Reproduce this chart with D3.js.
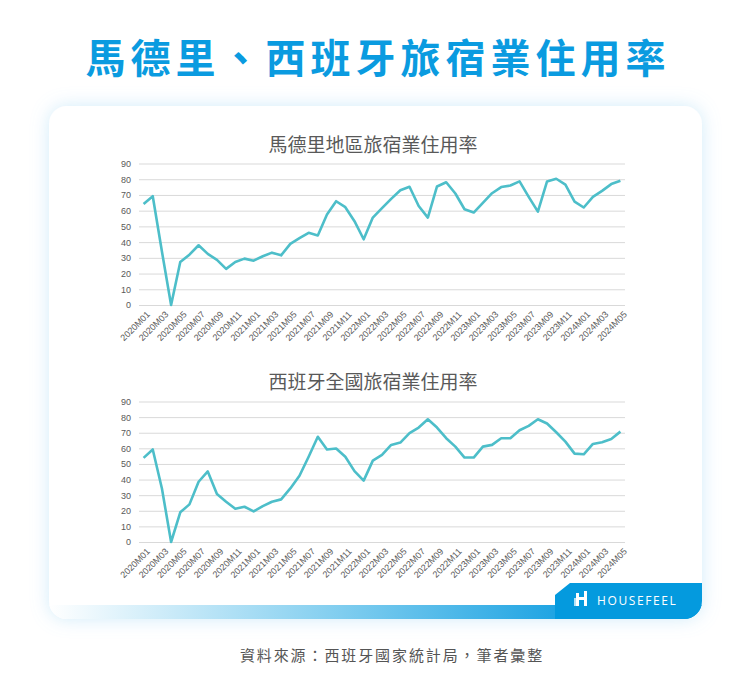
<!DOCTYPE html>
<html><head><meta charset="utf-8">
<script src="https://cdn.jsdelivr.net/npm/d3@7"></script>
<style>
html,body{margin:0;padding:0;background:#fff;}
svg{display:block;}
</style></head>
<body>
<svg id="c" width="750" height="684"></svg>
<script>
// ---------- DATA ----------
const months = [];
for (let y = 2020; y <= 2024; y++) for (let m = 1; m <= 12; m++) {
  if (y === 2024 && m > 5) break;
  months.push(y + "M" + String(m).padStart(2, "0"));
}
const madridValues = [64.3,69.2,34,0,27.4,32,38,32.5,28.7,23,27.4,29.5,28.2,31,33.3,31.6,38.9,42.5,45.9,44.2,57.5,66,62.2,53.3,41.8,55.6,61.6,67.5,73,75.2,63,55.6,75.4,78.1,70.9,60.9,58.8,65,71.1,75,76,78.6,68.8,59.4,78.6,80.3,76.6,65.8,62,68.8,72.6,76.9,79];
const spainValues = [53.9,59.3,34.3,0,19,24.1,38.6,45.2,30.7,25.8,21.3,22.6,19.6,23,25.8,27.3,34.3,42.4,54.6,67.4,59.3,59.9,54.6,45.4,39.3,52.1,55.8,62.2,63.7,69.7,73.3,78.6,73.3,66.5,61.1,54.1,54.1,61.1,62.2,66.5,66.5,71.6,74.4,78.6,75.9,70.3,64.3,56.6,56.2,62.8,63.9,66,70.7];
const yTicks = [0,10,20,30,40,50,60,70,80,90];
const xTickLabels = months.filter((d, i) => i % 2 === 0);
const mainTitle = "馬德里、西班牙旅宿業住用率";
const chartTitles = ["馬德里地區旅宿業住用率", "西班牙全國旅宿業住用率"];
const sourceText = "資料來源：西班牙國家統計局，筆者彙整";
const brandText = "HOUSEFEEL";

// ---------- DRAW ----------
const svg = d3.select("#c");
const defs = svg.append("defs");
const cjk = "'Noto Sans CJK TC','Noto Sans CJK SC',sans-serif";
const latin = "'Liberation Sans','DejaVu Sans',sans-serif";

// glow filter
const f = defs.append("filter").attr("id","glow").attr("x","-20%").attr("y","-20%").attr("width","140%").attr("height","140%");
f.append("feGaussianBlur").attr("in","SourceAlpha").attr("stdDeviation",9).attr("result","b");
f.append("feFlood").attr("flood-color","#7cc8ef").attr("flood-opacity",0.35);
f.append("feComposite").attr("in2","b").attr("operator","in").attr("result","s");
const fm = f.append("feMerge"); fm.append("feMergeNode").attr("in","s"); fm.append("feMergeNode").attr("in","SourceGraphic");

const grad = defs.append("linearGradient").attr("id","band").attr("x1",49).attr("x2",702).attr("y1",0).attr("y2",0).attr("gradientUnits","userSpaceOnUse");
grad.append("stop").attr("offset","0%").attr("stop-color","#ffffff");
grad.append("stop").attr("offset","45%").attr("stop-color","#7fcdef");
grad.append("stop").attr("offset","85%").attr("stop-color","#0a9be0");
grad.append("stop").attr("offset","100%").attr("stop-color","#049ade");

const card = {x:49, y:106, w:653, h:513, r:18};
defs.append("clipPath").attr("id","cardClip").append("rect")
  .attr("x",card.x).attr("y",card.y).attr("width",card.w).attr("height",card.h).attr("rx",card.r);

// title
svg.append("text").attr("x",378).attr("y",73).attr("text-anchor","middle")
  .attr("font-family",cjk).attr("font-weight",700).attr("font-size",40)
  .attr("letter-spacing",5).attr("fill","#0a9be0").text(mainTitle);

// card
svg.append("rect").attr("x",card.x).attr("y",card.y).attr("width",card.w).attr("height",card.h)
  .attr("rx",card.r).attr("fill","#fff").attr("filter","url(#glow)");

const cg = svg.append("g").attr("clip-path","url(#cardClip)");
cg.append("rect").attr("x",card.x).attr("y",605).attr("width",card.w).attr("height",20).attr("fill","url(#band)");
cg.append("path").attr("d","M555,606 L555,595 L570,583 L705,583 L705,625 L555,625 Z").attr("fill","#049ade");

// logo
const lg = svg.append("g").attr("fill","#fff");
lg.append("rect").attr("x",576).attr("y",593).attr("width",3).attr("height",13);
lg.append("rect").attr("x",579).attr("y",597).attr("width",5).attr("height",3);
lg.append("rect").attr("x",584).attr("y",591).attr("width",3).attr("height",15);
lg.append("rect").attr("x",574).attr("y",598).attr("width",2).attr("height",8).attr("opacity",0.7);
lg.append("text").attr("x",597).attr("y",605).attr("font-family","'Open Sans',"+latin)
  .attr("font-size",12).attr("letter-spacing",1.6).attr("fill","#fff").text(brandText);

// footer
svg.append("text").attr("x",392).attr("y",661).attr("text-anchor","middle")
  .attr("font-family",cjk).attr("font-size",15).attr("letter-spacing",1.9)
  .attr("fill","#555").text(sourceText);

function drawChart(values, title, top, bottom, titleY) {
  const x = d3.scaleBand().domain(months).range([139, 625]);
  const y = d3.scaleLinear().domain([0, 90]).range([bottom, top]);
  const g = svg.append("g");
  g.append("text").attr("x",373).attr("y",titleY).attr("text-anchor","middle")
    .attr("font-family",cjk).attr("font-size",19).attr("font-weight",400).attr("fill","#595959").text(title);

  const ya = g.append("g").attr("transform","translate(139,0)")
    .call(d3.axisLeft(y).tickValues(yTicks).tickSize(-486).tickPadding(8));
  ya.select(".domain").remove();
  ya.selectAll("line").attr("stroke","#d9d9d9").attr("stroke-width",1);
  ya.selectAll("text").attr("font-family",latin).attr("font-size",9).attr("fill","#595959");

  const xa = g.append("g").attr("transform",`translate(0,${bottom})`)
    .call(d3.axisBottom(x).tickValues(xTickLabels).tickSize(0).tickPadding(4));
  xa.select(".domain").remove();
  xa.selectAll("text").attr("font-family",latin).attr("font-size",9).attr("fill","#595959")
    .attr("text-anchor","end").attr("dy","0.35em")
    .attr("transform","translate(2,5) rotate(-45)");

  const line = d3.line().x((d,i) => x(months[i]) + x.bandwidth()/2).y(d => y(d));
  g.append("path").datum(values).attr("d",line).attr("fill","none")
    .attr("stroke","#4dbec9").attr("stroke-width",2.6).attr("stroke-linejoin","round");
}
drawChart(madridValues, chartTitles[0], 163.5, 305, 152);
drawChart(spainValues, chartTitles[1], 401.5, 542, 389);
</script>
</body></html>
